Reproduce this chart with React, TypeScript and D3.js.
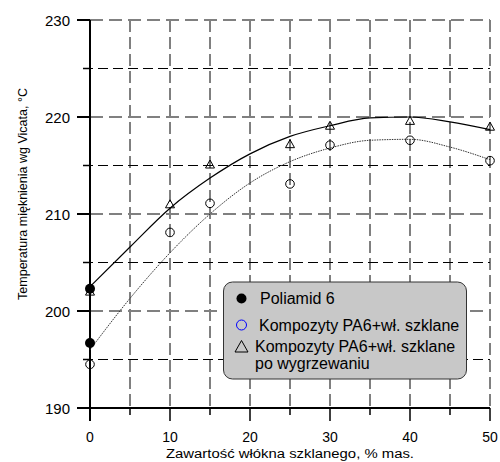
import * as d3 from 'd3'

const WIDTH = 500
const HEIGHT = 462
const PLOT = { left: 90, right: 490, top: 20, bottom: 408 }

// measured points
const DATA_X = [0, 10, 15, 25, 30, 40, 50]
const COMPOSITE_Y = [194.5, 208.1, 211.1, 213.1, 217.1, 217.6, 215.5]
const ANNEALED_Y = [202.0, 211.0, 215.1, 217.2, 219.1, 219.6, 219.0]
const PA6_X = [0, 0]
const PA6_Y = [202.3, 196.7]

// trend curves
const TREND_X = [0, 5, 10, 15, 20, 25, 30, 35, 40, 45, 50]
const ANNEALED_TREND = [202.5, 206.6, 210.6, 213.7, 216.2, 218.0, 219.1, 219.9, 220.0, 219.5, 218.7]
const COMPOSITE_TREND = [196.0, 201.3, 206.0, 210.0, 213.2, 215.4, 216.8, 217.6, 217.7, 216.9, 215.6]

const X_TICKS = [0, 10, 20, 30, 40, 50]
const X_MINOR = [5, 15, 25, 35, 45]
const Y_TICKS = [190, 200, 210, 220, 230]
const Y_MINOR = [195, 205, 215, 225]

const LEGEND = [
  'Poliamid 6',
  'Kompozyty PA6+wł. szklane',
  'Kompozyty PA6+wł. szklane',
  'po wygrzewaniu',
]

const FONT = 'Liberation Sans, Arial, sans-serif'

export default function App() {
  const x = d3.scaleLinear().domain([0, 50]).range([PLOT.left, PLOT.right])
  const y = d3.scaleLinear().domain([190, 230]).range([PLOT.bottom, PLOT.top])
  const line = d3
    .line<[number, number]>()
    .x((d) => x(d[0]))
    .y((d) => y(d[1]))
    .curve(d3.curveMonotoneX)
  const annealed = TREND_X.map((v, i) => [v, ANNEALED_TREND[i]] as [number, number])
  const composite = TREND_X.map((v, i) => [v, COMPOSITE_TREND[i]] as [number, number])
  const tri = (cx: number, cy: number) =>
    `M${cx},${cy - 4.5}L${cx + 4.5},${cy + 3.5}L${cx - 4.5},${cy + 3.5}Z`

  return (
    <svg
      width={WIDTH}
      height={HEIGHT}
      style={{ position: 'absolute', left: 0, top: 0, background: '#fff' }}
      fontFamily={FONT}
    >
      {/* minor grid */}
      {Y_MINOR.map((t) => (
        <line key={'ym' + t} x1={PLOT.left - 7} x2={PLOT.right} y1={y(t)} y2={y(t)}
          stroke="#000" strokeWidth={1} strokeDasharray="10,5" />
      ))}
      {[...X_MINOR, ...X_TICKS.filter((t) => t > 0)].map((t) => (
        <line key={'xv' + t} x1={x(t)} x2={x(t)} y1={PLOT.top} y2={PLOT.bottom}
          stroke="#000" strokeWidth={1} strokeDasharray="12,5" />
      ))}
      {/* major horizontal grid */}
      {Y_TICKS.filter((t) => t > 190).map((t) => (
        <line key={'yg' + t} x1={PLOT.left} x2={PLOT.right} y1={y(t)} y2={y(t)}
          stroke="#808080" strokeWidth={2} strokeDasharray="13,6" />
      ))}
      {/* axes */}
      <line x1={x(0)} x2={x(0)} y1={PLOT.top} y2={PLOT.bottom + 13} stroke="#000" strokeWidth={2} />
      <line x1={PLOT.left - 13} x2={PLOT.right} y1={y(190)} y2={y(190)} stroke="#000" strokeWidth={2} />
      {Y_TICKS.map((t) => (
        <g key={'yt' + t}>
          <line x1={PLOT.left - 13} x2={PLOT.left} y1={y(t)} y2={y(t)} stroke="#000" strokeWidth={2} />
          <text x={70} y={y(t) + 5.5} textAnchor="end" fontSize={15}>{t}</text>
        </g>
      ))}
      {Y_MINOR.map((t) => (
        <line key={'ymt' + t} x1={PLOT.left - 7} x2={PLOT.left} y1={y(t)} y2={y(t)} stroke="#000" strokeWidth={1.5} />
      ))}
      {X_TICKS.map((t) => (
        <g key={'xt' + t}>
          <line x1={x(t)} x2={x(t)} y1={PLOT.bottom} y2={PLOT.bottom + 13} stroke="#000" strokeWidth={1.5} />
          <text x={x(t)} y={442} textAnchor="middle" fontSize={14}>{t}</text>
        </g>
      ))}
      {X_MINOR.map((t) => (
        <line key={'xmt' + t} x1={x(t)} x2={x(t)} y1={PLOT.bottom} y2={PLOT.bottom + 7} stroke="#000" strokeWidth={1.5} />
      ))}

      <text x={(x(0) + x(50)) / 2} y={458} textAnchor="middle" fontSize={12.5}
        textLength={248} lengthAdjust="spacingAndGlyphs">
        Zawartość włókna szklanego, % mas.
      </text>
      <text transform={`translate(27,194) rotate(-90)`} textAnchor="middle" fontSize={12.5}>
        Temperatura mięknienia wg Vicata,  °C
      </text>

      {/* trend curves */}
      <path d={line(annealed) ?? undefined} fill="none" stroke="#000" strokeWidth={1.2} />
      <path d={line(composite) ?? undefined} fill="none" stroke="#333" strokeWidth={1} strokeDasharray="1.5,1" />

      {/* markers */}
      {DATA_X.map((v, i) => (
        <path key={'tr' + i} d={tri(x(v), y(ANNEALED_Y[i]))} fill="none" stroke="#000" strokeWidth={1} />
      ))}
      {DATA_X.map((v, i) => (
        <circle key={'c' + i} cx={x(v)} cy={y(COMPOSITE_Y[i])} r={4.3} fill="none" stroke="#000" strokeWidth={1} />
      ))}
      {PA6_X.map((v, i) => (
        <circle key={'p' + i} cx={x(v)} cy={y(PA6_Y[i])} r={5} fill="#000" />
      ))}

      {/* legend */}
      <g>
        <rect x={223.5} y={282} width={243} height={97} rx={9} fill="#c8c8c8" stroke="#333" strokeWidth={1} />
        <circle cx={241.5} cy={298.5} r={5} fill="#000" />
        <circle cx={241.5} cy={325} r={5} fill="none" stroke="#0000ff" strokeWidth={1} />
        <path d={`M241.5,340.5L248,352L235,352Z`} fill="none" stroke="#000" strokeWidth={1} />
        <text x={260} y={304} fontSize={16}>{LEGEND[0]}</text>
        <text x={259} y={331} fontSize={16}>{LEGEND[1]}</text>
        <text x={255} y={352} fontSize={16}>{LEGEND[2]}</text>
        <text x={255} y={369} fontSize={16}>{LEGEND[3]}</text>
      </g>
    </svg>
  )
}
